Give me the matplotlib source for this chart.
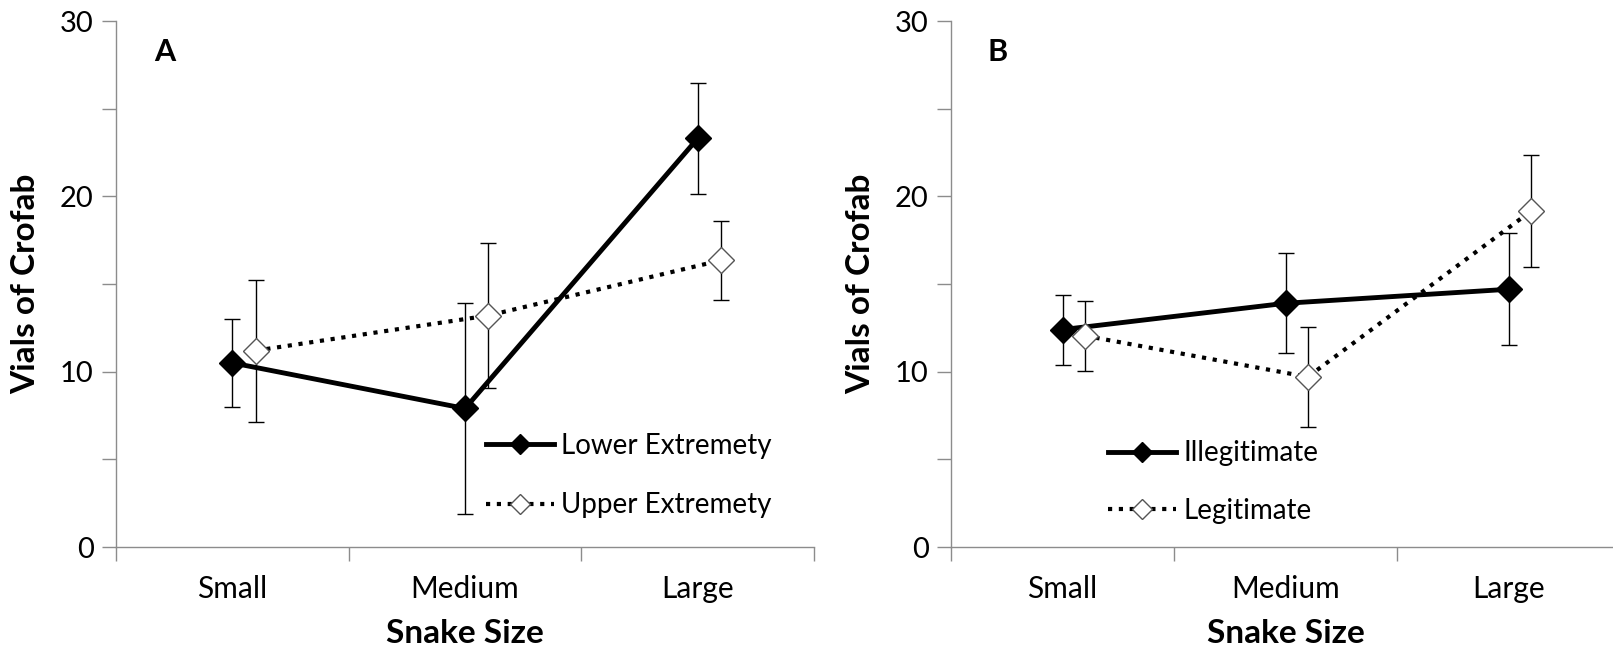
import numpy as np
import matplotlib
matplotlib.use("Agg")
import matplotlib.pyplot as plt
from matplotlib.lines import Line2D

plt.rcParams['font.family'] = ['Lato', 'DejaVu Sans']

sizes = ['Small', 'Medium', 'Large']

# Panel A
lower_mean = [10.5, 7.9, 23.3]
lower_err = [2.5, 6.0, 3.15]
upper_mean = [11.2, 13.2, 16.35]
upper_err = [4.05, 4.15, 2.25]

# Panel B
illeg_mean = [12.4, 13.9, 14.7]
illeg_err = [2.0, 2.85, 3.2]
legit_mean = [12.05, 9.7, 19.15]
legit_err = [2.0, 2.85, 3.2]

AXIS_GREY = '#8c8c8c'
DOTS = (0, (1, 1.6))

fig = plt.figure(figsize=(16.13, 6.52), dpi=100)
axA = fig.add_axes([116 / 1613, 1 - 547 / 652, (814 - 116) / 1613, (547 - 21) / 652])
axB = fig.add_axes([951 / 1613, 1 - 547 / 652, (1620 - 951) / 1613, (547 - 21) / 652])


def draw_panel(ax, m1, e1, m2, e2, lab1, lab2, letter, leg_x, leg_y, leg_sp):
    x = np.arange(len(sizes)) + 0.5
    ax.errorbar(x, m1, yerr=e1, color='black', lw=3.5, marker='D', ms=13,
                mfc='black', mec='black', ecolor='black', elinewidth=1,
                capsize=6, capthick=1, zorder=3)
    ax.errorbar(x + 0.1, m2, yerr=e2, color='black', lw=3, ls=DOTS,
                marker='D', ms=13, mfc='white', mec='#555555', mew=1,
                ecolor='black', elinewidth=1, capsize=6, capthick=1, zorder=4)
    ax.set_xlim(0, 3)
    ax.set_ylim(0, 30)
    ax.set_yticks(np.arange(0, 31, 5))
    ax.set_yticklabels(['0', '', '10', '', '20', '', '30'])
    ax.set_xticks([0, 1, 2, 3])
    ax.set_xticklabels([])
    ax.set_xticks(x, minor=True)
    ax.set_xticklabels(sizes, minor=True)
    ax.tick_params(axis='x', which='minor', length=0, pad=20, labelsize=21.5)
    ax.tick_params(axis='x', which='major', length=10, color=AXIS_GREY, width=1)
    ax.tick_params(axis='y', length=10, color=AXIS_GREY, width=1, labelsize=21, pad=6)
    for s in ['top', 'right']:
        ax.spines[s].set_visible(False)
    for s in ['left', 'bottom']:
        ax.spines[s].set_color(AXIS_GREY)
        ax.spines[s].set_linewidth(1)
    ax.set_ylabel('Vials of Crofab', fontsize=24, fontweight='bold', labelpad=14)
    ax.set_xlabel('Snake Size', fontsize=24, fontweight='bold', labelpad=12)
    ax.text(0.055, 0.942, letter, transform=ax.transAxes, fontsize=22, fontweight='bold',
            ha='left', va='center')
    h1 = Line2D([], [], color='black', lw=3.5, marker='D', ms=10, mfc='black', mec='black')
    h2 = Line2D([], [], color='black', lw=3, ls=DOTS, marker='D', ms=10,
                mfc='white', mec='#555555', mew=1)
    ax.legend([h1, h2], [lab1, lab2], loc='center left', bbox_to_anchor=(leg_x, leg_y),
              frameon=False, fontsize=20, handlelength=2.45, handletextpad=0.25,
              labelspacing=leg_sp, borderaxespad=0, borderpad=0)


draw_panel(axA, lower_mean, lower_err, upper_mean, upper_err,
           'Lower Extremety', 'Upper Extremety', 'A', 0.53, 0.1355, 1.2)
draw_panel(axB, illeg_mean, illeg_err, legit_mean, legit_err,
           'Illegitimate', 'Legitimate', 'B', 0.235, 0.1235, 1.12)

fig.savefig('out.png', dpi=100)
